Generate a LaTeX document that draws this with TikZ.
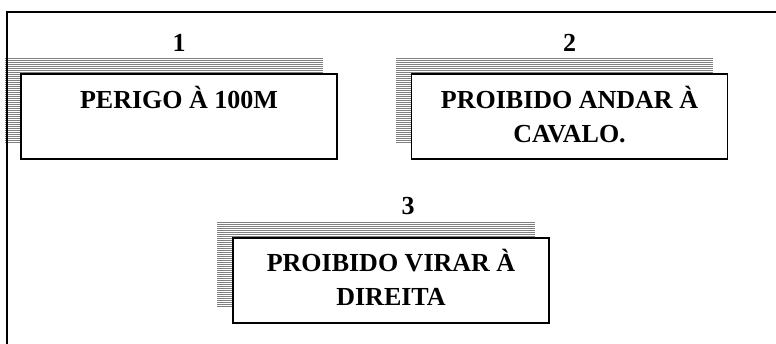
\documentclass[tikz,border=0pt]{standalone}
\usepackage{fontspec}
\setmainfont{Liberation Serif}
\usetikzlibrary{positioning,calc,backgrounds}

\tikzset{
  signbox/.style={draw, line width=1.5pt, fill=white, minimum width=316pt, minimum height=85pt, inner sep=0pt},
  signtext/.style={font=\fontsize{26}{34}\selectfont\bfseries, align=center, inner sep=0pt},
  numlabel/.style={font=\fontsize{26}{30}\selectfont\bfseries, inner sep=0pt},
  shadeline/.style={gray, line width=0.7pt}
}
\newcommand{\drawshade}[1]{
\foreach \i in {0,...,42}
  \draw[shadeline] ($(#1.north west)+(-15,-15+2*\i)$) -- ($(#1.north east)+(-15,-15+2*\i)$);
}

\begin{document}
\begin{tikzpicture}[x=1pt, y=-1pt]
\useasboundingbox (0,0) rectangle (776,344);
\draw[line width=1.5pt] (776,12) -- (7,12) -- (7,344);

\node[signbox] (box1) at (179,116.5) {};
\node[signbox] (box2) at (569.5,116.5) {};
\node[signbox] (box3) at (391,280.5) {};

\begin{scope}[on background layer]
\drawshade{box1}
\drawshade{box2}
\drawshade{box3}
\end{scope}

\node[numlabel, above=22pt of box1] (num1) {1};
\node[numlabel, above=22pt of box2] (num2) {2};
\node[numlabel, above=22pt of box3, xshift=17pt] (num3) {3};

\node[signtext, below=13pt of box1.north] (txt1) {PERIGO À 100M};
\node[signtext, below=13pt of box2.north] (txt2) {PROIBIDO ANDAR À\\CAVALO.};
\node[signtext, below=12pt of box3.north] (txt3) {PROIBIDO VIRAR À\\DIREITA};

\end{tikzpicture}
\end{document}
